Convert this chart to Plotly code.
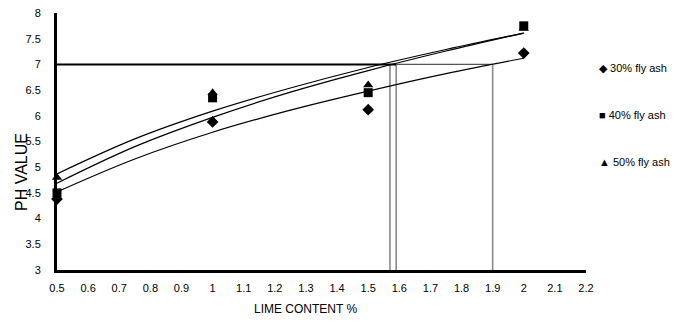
import plotly.graph_objects as go

# Measured data
lime = [0.5, 1.0, 1.5, 2.0]
ph_30 = [4.38, 5.88, 6.12, 7.22]
ph_40 = [4.50, 6.35, 6.45, 7.75]
ph_50 = [4.80, 6.45, 6.60, 7.70]

# Trend lines
trend_x = [0.5, 0.75, 1.0, 1.25, 1.5, 1.75, 2.0]
trend_30 = [4.52, 5.16, 5.68, 6.11, 6.48, 6.82, 7.12]
trend_40 = [4.69, 5.40, 5.97, 6.46, 6.88, 7.26, 7.61]
trend_50 = [4.87, 5.55, 6.09, 6.54, 6.94, 7.29, 7.61]

# Reference construction lines at pH 7
target_ph = 7
cross_x = [1.57, 1.59, 1.90]

x_ticks = [0.5, 0.6, 0.7, 0.8, 0.9, 1.0, 1.1, 1.2, 1.3, 1.4, 1.5, 1.6, 1.7, 1.8, 1.9, 2.0, 2.1, 2.2]
x_labels = ["0.5", "0.6", "0.7", "0.8", "0.9", "1", "1.1", "1.2", "1.3", "1.4", "1.5", "1.6", "1.7", "1.8", "1.9", "2", "2.1", "2.2"]
y_ticks = [3, 3.5, 4, 4.5, 5, 5.5, 6, 6.5, 7, 7.5, 8]
y_labels = ["3", "3.5", "4", "4.5", "5", "5.5", "6", "6.5", "7", "7.5", "8"]

series_names = ["30% fly ash", "40% fly ash", "50% fly ash"]
legend_symbols = ["◆", "■", "▲"]
x_title = "LIME CONTENT %"
y_title = "PH VALUE"

FONT = "Liberation Sans, Arial, sans-serif"

L, T = 57, 13
PW, PH = 529, 257
R, B = 679 - L - PW, 322 - T - PH
W, H = 679, 322


def px_x(p):
    return (p - L) / PW


def px_y(p):
    return 1 - (p - T) / PH


fig = go.Figure()

# vertical construction lines
for cx in cross_x:
    fig.add_trace(go.Scatter(x=[cx, cx], y=[3, target_ph], mode="lines",
                             line=dict(color="#8a8a8a", width=1.6),
                             showlegend=False, hoverinfo="skip"))
# horizontal lines at pH 7
fig.add_trace(go.Scatter(x=[cross_x[1], cross_x[2]], y=[target_ph, target_ph], mode="lines",
                         line=dict(color="#555555", width=1.2),
                         showlegend=False, hoverinfo="skip"))
fig.add_trace(go.Scatter(x=[lime[0], cross_x[1]], y=[target_ph, target_ph], mode="lines",
                         line=dict(color="black", width=2),
                         showlegend=False, hoverinfo="skip"))

# trend lines
for ty in (trend_30, trend_40, trend_50):
    fig.add_trace(go.Scatter(x=trend_x, y=ty, mode="lines",
                             line=dict(color="black", width=1.2, shape="spline"),
                             showlegend=False, hoverinfo="skip"))

# markers
for name, ys, sym in zip(series_names, (ph_30, ph_40, ph_50),
                         ("diamond", "square", "triangle-up")):
    fig.add_trace(go.Scatter(x=lime, y=ys, mode="markers", name=name,
                             marker=dict(symbol=sym, size=9, color="black"),
                             cliponaxis=False, showlegend=False))

# legend drawn as text
legend_y = [68, 115, 162]
for name, s, ly in zip(series_names, legend_symbols, legend_y):
    fig.add_annotation(xref="paper", yref="paper",
                       x=px_x(597), y=px_y(ly),
                       xanchor="left", yanchor="middle", showarrow=False,
                       text=f"{s} {name}",
                       font=dict(family=FONT, size=11, color="black"))

# axis titles
fig.add_annotation(xref="paper", yref="paper", x=px_x(305), y=px_y(309),
                   xanchor="center", yanchor="middle", showarrow=False,
                   text=x_title, font=dict(family=FONT, size=12, color="black"))
fig.add_annotation(xref="paper", yref="paper", x=px_x(21), y=px_y(172),
                   xanchor="center", yanchor="middle", showarrow=False, textangle=-90,
                   text=y_title, font=dict(family=FONT, size=16, color="black"))

fig.update_layout(
    width=W, height=H,
    margin=dict(l=L, r=R, t=T, b=B, autoexpand=False),
    paper_bgcolor="white", plot_bgcolor="white",
    xaxis=dict(range=[0.5, 2.2], tickvals=x_ticks, ticktext=x_labels,
               showgrid=False, zeroline=False, showline=True,
               linecolor="black", linewidth=3, ticks="", automargin=False,
               ticklabelstandoff=6,
               tickfont=dict(family=FONT, size=11, color="black")),
    yaxis=dict(range=[3, 8], tickvals=y_ticks, ticktext=y_labels,
               showgrid=False, zeroline=False, showline=True,
               linecolor="black", linewidth=3, ticks="", automargin=False,
               ticklabelstandoff=11,
               tickfont=dict(family=FONT, size=11, color="black")),
    showlegend=False,
)

fig.write_html("out.html",
               config={"displayModeBar": False},
               post_script="document.body.style.margin='0';document.body.style.padding='0';")
